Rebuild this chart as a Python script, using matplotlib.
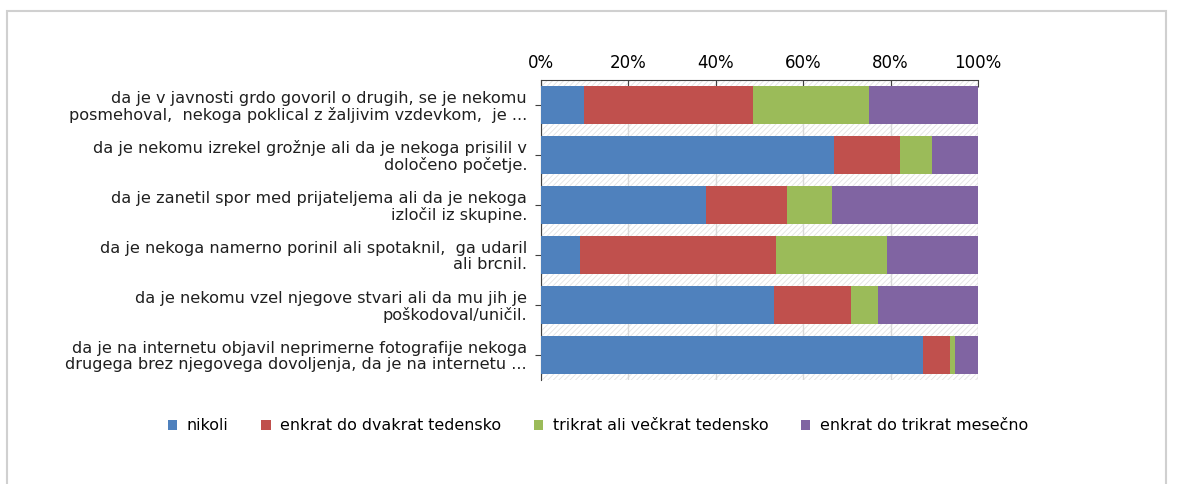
import numpy as np
import matplotlib.pyplot as plt
from matplotlib.patches import Patch, Rectangle

# podatki (odčitani iz slike, v %)
labels = [
    'da je v javnosti grdo govoril o drugih, se je nekomu\nposmehoval,  nekoga poklical z žaljivim vzdevkom,  je ...',
    'da je nekomu izrekel grožnje ali da je nekoga prisilil v\ndoločeno početje.',
    'da je zanetil spor med prijateljema ali da je nekoga\nizločil iz skupine.',
    'da je nekoga namerno porinil ali spotaknil,  ga udaril\nali brcnil.',
    'da je nekomu vzel njegove stvari ali da mu jih je\npoškodoval/uničil.',
    'da je na internetu objavil neprimerne fotografije nekoga\ndrugega brez njegovega dovoljenja, da je na internetu ...',
]
series_names = ['nikoli', 'enkrat do dvakrat tedensko', 'trikrat ali večkrat tedensko', 'enkrat do trikrat mesečno']
nikoli = [9.9, 67.0, 37.8, 8.9, 53.3, 87.5]
enkrat_dvakrat = [38.6, 15.2, 18.6, 44.8, 17.6, 6.1]
trikrat_vec = [26.5, 7.2, 10.3, 25.4, 6.2, 1.1]
mesecno = [25.0, 10.6, 33.3, 20.9, 22.9, 5.3]
colors = ['#4F81BD', '#C0504D', '#9BBB59', '#8064A2']

plt.rcParams['font.family'] = 'DejaVu Sans'
plt.rcParams['hatch.linewidth'] = 0.6

fig = plt.figure(figsize=(11.82, 4.84), dpi=100)

# okvir slike
fig.patches.append(Rectangle((7 / 1182, -0.05), (1166 - 7) / 1182, 1.05 - 11 / 484,
                             transform=fig.transFigure, fill=False,
                             edgecolor='#d0d0d0', linewidth=1.5))

ax = fig.add_axes([541 / 1182, 1 - 380 / 484, (978 - 541) / 1182, 300 / 484])

# šrafirano ozadje
ax.add_patch(Rectangle((0, 0), 1, 1, transform=ax.transAxes, facecolor='white',
                       edgecolor='#e2e2e2', hatch='//////', linewidth=0, zorder=0))

y = np.arange(len(labels))
data = [nikoli, enkrat_dvakrat, trikrat_vec, mesecno]
left = np.zeros(len(labels))
for vals, col, name in zip(data, colors, series_names):
    ax.barh(y, vals, left=left, height=0.75, color=col, label=name, zorder=3)
    left += np.array(vals)

ax.set_xlim(0, 100)
ax.set_ylim(len(labels) - 0.5, -0.5)
ax.set_xticks(np.arange(0, 101, 20))
ax.set_xticklabels([f'{v}%' for v in range(0, 101, 20)])
ax.xaxis.tick_top()
ax.tick_params(axis='x', direction='in', length=5, labelsize=12, pad=6, color='#404040')
ax.set_yticks(y)
ax.set_yticklabels(labels, fontsize=11.6, linespacing=1.06, color='#202020')
ax.tick_params(axis='y', direction='out', length=4, pad=6, color='#404040')
ax.grid(axis='x', color='#d9d9d9', linewidth=1, zorder=1)
ax.set_axisbelow(True)
for s in ['right', 'bottom']:
    ax.spines[s].set_visible(False)
ax.spines['top'].set_color('#404040')
ax.spines['left'].set_color('#404040')

handles = [Patch(facecolor=c, edgecolor='none') for c in colors]
fig.legend(handles, series_names, loc='center', bbox_to_anchor=(598 / 1182, 1 - 426 / 484),
           ncol=4, frameon=False, fontsize=11.4, handlelength=0.6, handleheight=0.6,
           handletextpad=0.6, columnspacing=2.05)

fig.savefig('out.png', dpi=100)
